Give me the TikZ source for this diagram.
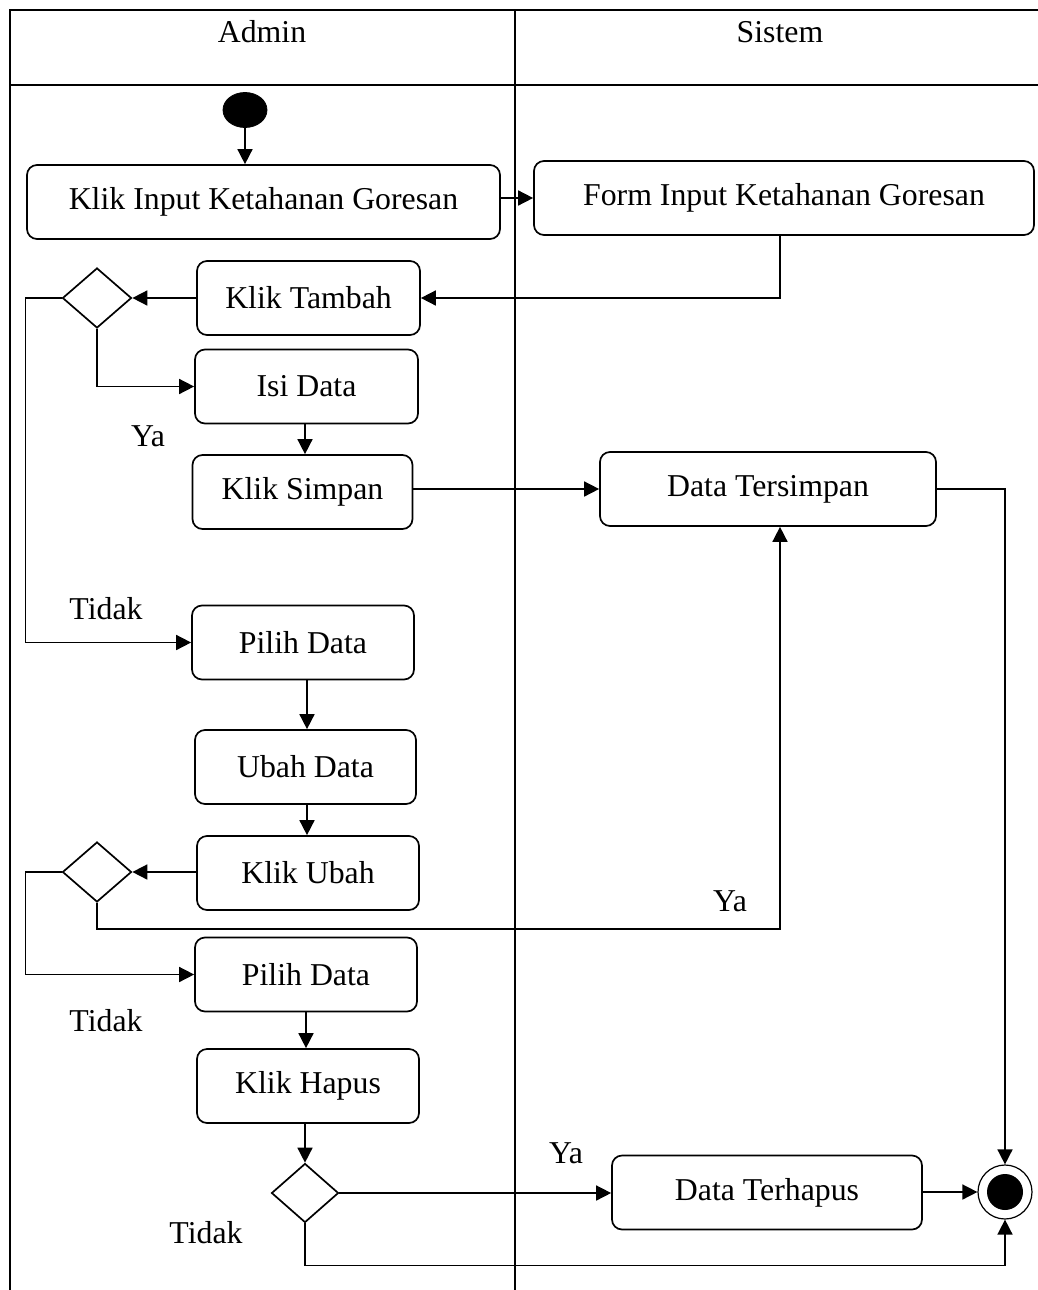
\documentclass[tikz,border=0pt]{standalone}
\usepackage{fontspec}
\setmainfont{Liberation Serif}
\usepackage{tikz}
\usetikzlibrary{shapes.geometric, arrows.meta, positioning}

\tikzset{
  activity/.style={draw, line width=0.85pt, rounded corners=5pt, align=center,
    minimum height=37pt, inner sep=2pt},
  decision/.style={draw, line width=0.85pt, diamond, inner sep=0pt,
    minimum width=34.5pt, minimum height=30pt},
  start state/.style={draw, fill=black, ellipse, minimum width=22pt, minimum height=17.5pt},
  end state/.style={draw, line width=0.6pt, circle, minimum size=27pt, inner sep=0pt},
  flow/.style={line width=0.8pt},
  lane/.style={line width=1.15pt},
  guard/.style={inner sep=0pt}
}

\begin{document}
\begin{tikzpicture}[x=0.5pt, y=-0.5pt, >={Triangle[length=7.5pt, width=7.5pt]},
    every node/.style={font=\fontsize{15.9}{19}\selectfont}]

    \useasboundingbox (0,0) rectangle (1038,1290);

    % swimlanes
    \draw [lane] (10,1290) -- (10,10) -- (1038,10);
    \draw [lane] (10,85) -- (1038,85);
    \draw [lane] (515,10) -- (515,1290);
    \node (admin) at (262,32) {Admin};
    \node (sistem) at (780,32) {Sistem};

    % admin lane
    \node [start state] (start) at (245,110) {};
    \node [activity, minimum width=236.5pt] (klik-input) at (263.5,202) {Klik Input Ketahanan Goresan};
    \node [activity, minimum width=111.5pt] (klik-tambah) at (308.5,298) {Klik Tambah};
    \node [decision] (cek-tambah) at (97,298) {};
    \node [activity, minimum width=111.5pt] (isi-data) at (306.5,386.5) {Isi Data};
    \node [activity, minimum width=110pt] (klik-simpan) at (302.5,492) {Klik Simpan};
    \node [activity, minimum width=111pt] (pilih-ubah) at (303,642.5) {Pilih Data};
    \node [activity, minimum width=110.5pt] (ubah-data) at (305.5,767) {Ubah Data};
    \node [activity, minimum width=111pt] (klik-ubah) at (308,873) {Klik Ubah};
    \node [decision] (cek-ubah) at (97,872) {};
    \node [activity, minimum width=111pt] (pilih-hapus) at (306,974.5) {Pilih Data};
    \node [activity, minimum width=111pt] (klik-hapus) at (308,1086) {Klik Hapus};
    \node [decision, minimum width=33.5pt, minimum height=29.5pt] (cek-hapus) at (305,1193) {};

    % sistem lane
    \node [activity, minimum width=250pt] (form-input) at (784,198) {Form Input Ketahanan Goresan};
    \node [activity, minimum width=168pt] (tersimpan) at (768,489) {Data Tersimpan};
    \node [activity, minimum width=155pt] (terhapus) at (767,1192.5) {Data Terhapus};
    \node [end state] (end) at (1005,1192) {};
    \fill (end.center) circle (9pt);

    \coordinate (ubah-ya) at (780,929);

    % flows
    \draw [flow, ->] (start) -- (start |- klik-input.north);
    \draw [flow, ->] (klik-input.east |- form-input.west) -- (form-input.west);
    \draw [flow, ->] (form-input.south -| 780,0) |- (klik-tambah.east);
    \draw [flow, ->] (klik-tambah.west) -- (klik-tambah.west -| cek-tambah.east);
    \draw [flow, ->] (cek-tambah.south) |- (isi-data.west);
    \draw [flow, ->] (cek-tambah.west) -- ++(-36,0) |- (pilih-ubah.west);
    \draw [flow, ->] (isi-data.south -| 305,0) -- (klik-simpan.north -| 305,0);
    \draw [flow, ->] (klik-simpan.east |- tersimpan.west) -- (tersimpan.west);
    \draw [flow, ->] (tersimpan.east) -| (end.north);
    \draw [flow, ->] (pilih-ubah.south -| 307,0) -- (ubah-data.north -| 307,0);
    \draw [flow, ->] (ubah-data.south -| 307,0) -- (klik-ubah.north -| 307,0);
    \draw [flow, ->] (klik-ubah.west |- cek-ubah.east) -- (cek-ubah.east);
    \draw [flow, ->] (cek-ubah.south) |- (ubah-ya) -- (ubah-ya |- tersimpan.south);
    \draw [flow, ->] (cek-ubah.west) -- ++(-36,0) |- (pilih-hapus.west);
    \draw [flow, ->] (pilih-hapus.south -| 306,0) -- (klik-hapus.north -| 306,0);
    \draw [flow, ->] (klik-hapus.south -| cek-hapus.north) -- (cek-hapus.north);
    \draw [flow, ->] (cek-hapus.east) -- (cek-hapus.east -| terhapus.west);
    \draw [flow, ->] (terhapus.east |- end.west) -- (end.west);
    \draw [flow, ->] (cek-hapus.south) -- ++(0,42) -| (end.south);

    % guards
    \node [guard] (ya-tambah) at (148,436) {Ya};
    \node [guard] (tidak-tambah) at (106,609) {Tidak};
    \node [guard] (ya-ubah) at (730,901) {Ya};
    \node [guard] (tidak-ubah) at (106,1021) {Tidak};
    \node [guard] (ya-hapus) at (566,1153) {Ya};
    \node [guard] (tidak-hapus) at (206,1233) {Tidak};

\end{tikzpicture}
\end{document}
